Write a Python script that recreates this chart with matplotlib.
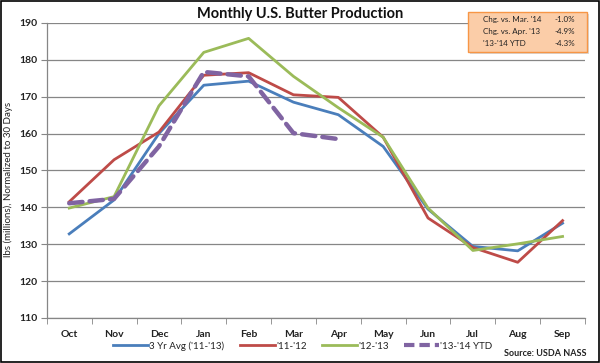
import matplotlib
matplotlib.use("Agg")
import matplotlib.pyplot as plt
from matplotlib.patches import FancyBboxPatch, Rectangle
from matplotlib.lines import Line2D

months = ["Oct", "Nov", "Dec", "Jan", "Feb", "Mar", "Apr", "May", "Jun", "Jul", "Aug", "Sep"]
avg_3yr = [132.8, 142.0, 160.0, 173.1, 174.2, 168.5, 165.1, 156.5, 139.5, 129.4, 128.2, 135.7]
y_11_12 = [141.5, 152.9, 160.4, 175.8, 176.5, 170.5, 169.8, 159.0, 137.1, 129.1, 125.1, 136.4]
y_12_13 = [139.8, 142.9, 167.5, 182.0, 185.8, 175.5, 167.0, 159.0, 139.8, 128.3, 130.1, 132.1]
y_13_14 = [141.1, 142.3, 156.5, 176.7, 175.5, 160.1, 158.5]

series_names = ["3 Yr Avg ('11-'13)", "'11-'12", "'12-'13", "'13-'14 YTD"]
colors = ["#4A7EBB", "#BE4B48", "#9BBB59", "#8064A2"]

box_labels = ["Chg. vs. Mar. '14", "Chg. vs. Apr. '13", "'13-'14 YTD"]
box_values = ["-1.0%", "-4.9%", "-4.3%"]

plt.rcParams['font.family'] = ['Lato', 'DejaVu Sans']

fig = plt.figure(figsize=(6, 3.63), dpi=100)
ax = fig.add_axes([0.078, 0.124, 0.897, 0.813])

x = list(range(len(months)))
ax.plot(x, avg_3yr, color=colors[0], lw=2.0, zorder=3)
ax.plot(x, y_11_12, color=colors[1], lw=2.0, zorder=3)
ax.plot(x, y_12_13, color=colors[2], lw=2.0, zorder=3)
ax.plot(x[:len(y_13_14)], y_13_14, color=colors[3], lw=3.2, dashes=(3.0, 1.6),
        dash_capstyle='round', zorder=4)

ax.set_xlim(-0.5, len(months) - 0.5)
ax.set_ylim(110, 190)
ax.set_yticks(range(110, 191, 10))
ax.set_xticks(x)
ax.set_xticklabels(months)
ax.set_xticks([i - 0.5 for i in range(len(months) + 1)], minor=True)
ax.tick_params(axis='x', which='major', length=0, pad=9, labelsize=7.5)
ax.tick_params(axis='x', which='minor', length=4, color='#868686', direction='out')
ax.tick_params(axis='y', length=4, color='#868686', labelsize=7.5, pad=3)
for lab in ax.get_xticklabels() + ax.get_yticklabels():
    lab.set_fontweight('bold')
    lab.set_color('#222222')

ax.grid(axis='y', color='#868686', lw=0.9)
ax.set_axisbelow(True)
for s in ['top', 'right']:
    ax.spines[s].set_visible(False)
for s in ['left', 'bottom']:
    ax.spines[s].set_color('#868686')
    ax.spines[s].set_linewidth(0.9)

ax.set_ylabel("lbs (millions), Normalized to 30 Days", fontsize=7, color='#222222', labelpad=3)
ax.yaxis.set_label_coords(-0.062, 0.47)

fig.text(0.5, 0.962, "Monthly U.S. Butter Production", ha='center', va='center',
         fontsize=10.5, fontweight='bold', color='#111111')

# legend
handles = [Line2D([0], [0], color=colors[0], lw=2.0),
           Line2D([0], [0], color=colors[1], lw=2.0),
           Line2D([0], [0], color=colors[2], lw=2.0),
           Line2D([0], [0], color=colors[3], lw=3.0, dashes=(2.5, 1.2))]
leg = fig.legend(handles, series_names, loc='center', bbox_to_anchor=(0.505, 0.047),
                 ncol=4, frameon=False, fontsize=7, handlelength=3.6, columnspacing=1.6,
                 handletextpad=0.1)
for t in leg.get_texts():
    t.set_color('#222222')

fig.text(0.977, 0.027, "Source: USDA NASS", ha='right', va='center', fontsize=6.5,
         fontweight='bold', color='#222222')

# info box
bx0, by0, bw, bh = 0.780, 0.857, 0.198, 0.110
shadow = FancyBboxPatch((bx0 + 0.003, by0 - 0.005), bw, bh, boxstyle="square,pad=0",
                        transform=fig.transFigure, facecolor='#D9D9D9', edgecolor='none',
                        zorder=4)
fig.patches.append(shadow)
box = FancyBboxPatch((bx0, by0), bw, bh, boxstyle="square,pad=0", transform=fig.transFigure,
                     facecolor='#FBCDA8', edgecolor='#F79646', lw=1.0, zorder=5)
fig.patches.append(box)
for i, (lab, val) in enumerate(zip(box_labels, box_values)):
    yy = by0 + bh - 0.022 - i * 0.033
    fig.text(bx0 + 0.025, yy, lab, fontsize=5.8, va='center', ha='left', color='#222222', zorder=6)
    fig.text(bx0 + bw - 0.02, yy, val, fontsize=5.8, va='center', ha='right', color='#222222', zorder=6)

# figure border
fig.patches.append(Rectangle((0.002, 0.003), 0.996, 0.994, transform=fig.transFigure,
                             fill=False, edgecolor='black', lw=1.2))

fig.savefig("out.png", dpi=100)
